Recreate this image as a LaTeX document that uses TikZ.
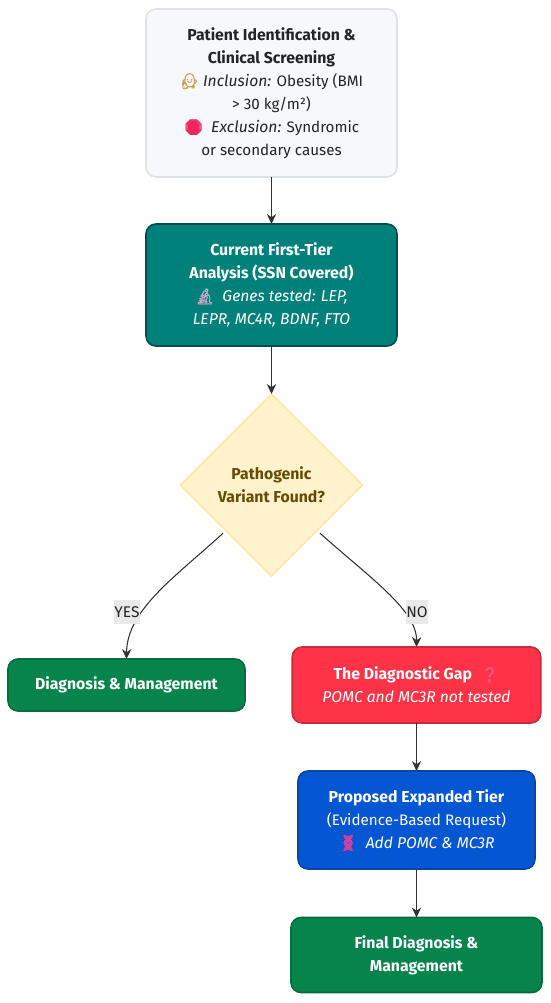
\documentclass[tikz,border=0pt]{standalone}
\usepackage{fontspec}
\usepackage{xcolor}
\usetikzlibrary{arrows.meta,shapes.geometric}
\setmainfont{Fira Sans}[BoldFeatures={Scale=1.04},ItalicFeatures={Scale=1.03}]
\newfontfamily\emojifont[FakeBold=1.6]{Noto Emoji}
\definecolor{screenfill}{HTML}{F6F8FB}
\definecolor{screenline}{HTML}{DEE3E8}
\definecolor{inktext}{HTML}{212529}
\definecolor{tealfill}{HTML}{00807B}
\definecolor{tealline}{HTML}{004F4C}
\definecolor{gapfill}{HTML}{FF3347}
\definecolor{gapline}{HTML}{C92A3A}
\definecolor{greenfill}{HTML}{07844C}
\definecolor{greenline}{HTML}{0A6B3F}
\definecolor{bluefill}{HTML}{0456D2}
\definecolor{blueline}{HTML}{0A47A5}
\definecolor{decfill}{HTML}{FFF2CC}
\definecolor{decline}{HTML}{FFE8A6}
\definecolor{dectext}{HTML}{664D03}
\definecolor{edgeline}{HTML}{333333}
\definecolor{labelfill}{HTML}{E9E9E9}
\definecolor{workercol}{HTML}{C9A24A}
\definecolor{stopcol}{HTML}{F0245F}
\definecolor{scopecol}{HTML}{D9A9C9}
\definecolor{askcol}{HTML}{FF4D7A}
\definecolor{dnacol}{HTML}{E0409A}
\newcommand{\emo}[2]{{\emojifont\textcolor{#1}{#2}}}
\begin{document}
\begin{tikzpicture}[x=0.75pt,y=-0.75pt,>={Stealth[length=7.5pt,width=7pt]},
  boxnode/.style={draw,rounded corners=7.5pt,line width=1.2pt,align=center,outer sep=0pt,inner sep=0pt,
    font=\fontsize{11.4pt}{17.25pt}\selectfont,text=white},
  screenbox/.style={boxnode,fill=screenfill,draw=screenline,text=inktext},
  tealbox/.style={boxnode,fill=tealfill,draw=tealline},
  gapbox/.style={boxnode,fill=gapfill,draw=gapline},
  greenbox/.style={boxnode,fill=greenfill,draw=greenline},
  bluebox/.style={boxnode,fill=bluefill,draw=blueline},
  decbox/.style={diamond,draw=decline,fill=decfill,line width=1.2pt,align=center,outer sep=0pt,inner sep=0pt,aspect=1,
    font=\fontsize{11.4pt}{17.25pt}\selectfont\bfseries,text=dectext,minimum width=136.5pt,minimum height=136.5pt},
  arrowline/.style={->,edgeline,line width=0.8pt},
  yesno/.style={fill=labelfill,text=inktext,inner sep=0pt,font=\fontsize{11.6pt}{14pt}\selectfont,minimum height=17.5pt}]
\useasboundingbox (0,0) rectangle (550,1003);
\node[screenbox,minimum width=188.25pt,minimum height=126pt] (screen) at (271.5,93) {\textbf{Patient Identification \&}\\
\textbf{Clinical Screening}\\
\emo{workercol}{🧑‍⚕️}\ \textit{Inclusion:} Obesity (BMI\\
> 30 kg/m²)\\
\emo{stopcol}{🛑}\ \ \textit{Exclusion:} Syndromic\\
or secondary causes};
\node[tealbox,minimum width=188.25pt,minimum height=91.5pt] (firsttier) at (271.5,285) {\textbf{Current First-Tier}\\
\textbf{Analysis (SSN Covered)}\\
\emo{scopecol}{🔬}\ \ \textit{Genes tested: LEP,}\\
\textit{LEPR, MC4R, BDNF, FTO}};
\node[decbox] (variant) at (271.5,485) {Pathogenic\\Variant Found?};
\node[greenbox,minimum width=177.75pt,minimum height=39pt] (diagnosis) at (126.5,685) {\textbf{Diagnosis \& Management}};
\node[gapbox,minimum width=186.4pt,minimum height=57pt] (gap) at (416.5,685) {\textbf{The Diagnostic Gap}\ \ \emo{askcol}{❓}\\
\textit{POMC and MC3R not tested}};
\node[bluebox,minimum width=177.75pt,minimum height=73.5pt] (expanded) at (416.5,820) {\textbf{Proposed Expanded Tier}\\
(Evidence-Based Request)\\
\emo{dnacol}{🧬}\ \ \textit{Add POMC \& MC3R}};
\node[greenbox,minimum width=188.25pt,minimum height=56.25pt] (final) at (416.5,955) {\textbf{Final Diagnosis \&}\\
\textbf{Management}};
\draw[arrowline](screen)--(firsttier);
\draw[arrowline](firsttier)--(variant);
\draw[arrowline,shorten <=3pt](variant.south west)..controls (174,578) and (127,610)..(diagnosis.north);
\draw[arrowline,shorten <=3pt](variant.south east)..controls (370,578) and (417,610)..(gap.north);
\draw[arrowline](gap)--(expanded);
\draw[arrowline](expanded)--(final);
\node[yesno] (yeslabel) at (127,612) {YES};
\node[yesno] (nolabel) at (417,612) {NO};
\end{tikzpicture}
\end{document}
